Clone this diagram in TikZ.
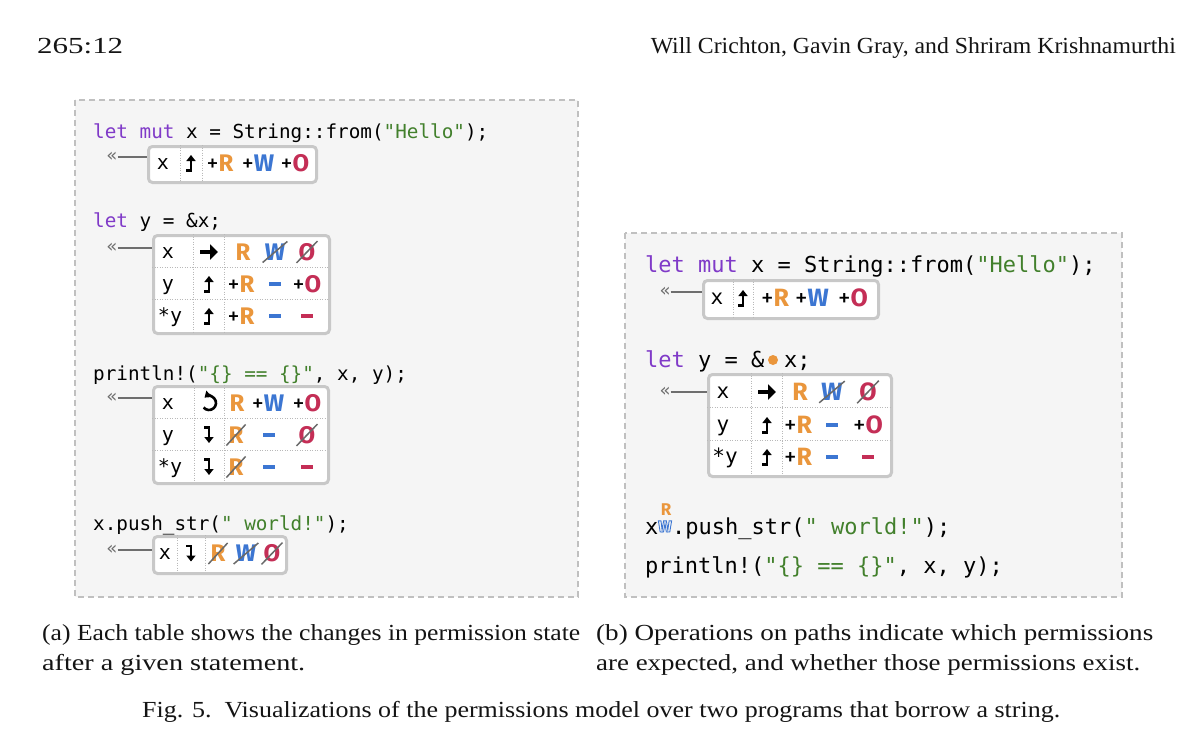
\documentclass[tikz,border=0pt]{standalone}
\usepackage{fontspec}
\usepackage{graphicx}
\setmainfont{Liberation Serif}
\newfontfamily\codefont{DejaVu Sans Mono}
\newfontfamily\permfont{Fira Sans}
\newfontfamily\chevfont{DejaVu Sans}
\usetikzlibrary{arrows.meta,calc}
\definecolor{kwc}{RGB}{128,58,200}
\definecolor{strc}{RGB}{66,128,44}
\definecolor{cR}{RGB}{234,150,60}
\definecolor{cW}{RGB}{60,118,210}
\definecolor{cO}{RGB}{196,46,86}
\definecolor{panelfill}{RGB}{245,245,245}
\definecolor{panelline}{RGB}{192,192,192}
\definecolor{tborder}{RGB}{200,200,200}
\definecolor{divc}{RGB}{185,185,185}
\definecolor{strikec}{RGB}{105,105,105}
\definecolor{connc}{RGB}{110,110,110}
\definecolor{textc}{RGB}{20,20,20}
\newcommand\lcode{\codefont\fontsize{19.3}{23}\selectfont}
\newcommand\rcode{\codefont\fontsize{22}{26}\selectfont}
\newcommand\kw[1]{\textcolor{kwc}{#1}}
\newcommand\str[1]{\textcolor{strc}{#1}}
\newcommand\pR{\textcolor{cR}{R}}
\newcommand\pW{\textcolor{cW}{W}}
\newcommand\pO{\textcolor{cO}{O}}
\newcommand\pl{\textcolor{black}{\mdseries+}}
\newcommand\owW{\special{pdf:literal direct 1 Tr 0.9 w}W\special{pdf:literal direct 0 Tr}}
\newcommand\fitw[2]{\resizebox{#1pt}{\height}{#2}}
\tikzset{
 panel/.style={draw=panelline, fill=panelfill, line width=1.8, dash pattern=on 6 off 4},
 tbox/.style={draw=tborder, fill=white, line width=3, rounded corners=4, inner sep=0, anchor=north west},
 tdiv/.style={draw=divc, line width=1, dash pattern=on 1 off 1.5},
 code/.style={anchor=base west, inner sep=0, text=black},
 pname/.style={anchor=base, inner sep=0, font=\codefont\fontsize{20}{20}\selectfont},
 rpname/.style={anchor=base, inner sep=0, font=\codefont\fontsize{21}{21}\selectfont},
 perm/.style={anchor=base, inner sep=0, font=\permfont\bfseries\fontsize{24}{24}\selectfont},
 rperm/.style={anchor=base, inner sep=0, font=\permfont\bfseries\fontsize{25}{25}\selectfont},
 crossed/.style={inner sep=2, append after command={(\tikzlastnode.south west) edge[strike] (\tikzlastnode.north east)}},
 pdash/.style={inner sep=0, minimum width=12, minimum height=3.8},
 strike/.style={draw=strikec, line width=1.5},
 chev/.style={inner sep=0, text=connc, font=\chevfont\fontsize{18}{18}\selectfont},
 conn/.style={draw=connc, line width=1.5},
 arr/.style={line width=2.6, line join=miter, -{Triangle[length=6,width=9]}},
 uparr/.pic={\draw[arr] (-5,7.5) -- (0,7.5) -- (0,-8);},
 downarr/.pic={\draw[arr] (-5,-7.5) -- (0,-7.5) -- (0,8);},
 rarr/.pic={\draw[line width=4,-{Triangle[length=8,width=15]}] (-9,0) -- (9,0);},
 rotarr/.pic={\draw[line width=2.6,-{Triangle[length=6,width=8]}] (140:7) arc[start angle=140,end angle=-130,radius=7];},
 annot/.style={anchor=base, inner sep=0, font=\permfont\bfseries\fontsize{17}{17}\selectfont},
 captxt/.style={anchor=base west, inner sep=0, font=\fontsize{23}{27}\selectfont, text=textc},
}
\begin{document}
\begin{tikzpicture}[x=1pt,y=-1pt]
\useasboundingbox (0,0) rectangle (1200,744);
\fill[white] (0,0) rectangle (1200,744);
% header
\node[captxt] (hdl) at (37,53) {\fitw{86}{265:12}};
\node[captxt, anchor=base east] (hdr) at (1176,53) {\fitw{525}{Will Crichton, Gavin Gray, and Shriram Krishnamurthi}};
% panels
\draw[panel] (75,100) rectangle (578,597);
\draw[panel] (625,233) rectangle (1122,597);
% ---------- left code ----------
\node[code] (L1) at (93,138) {\lcode\kw{let} \kw{mut} x = String::from(\str{"Hello"});};
\node[code] (L2) at (93,227) {\lcode\kw{let} y = \&x;};
\node[code] (L3) at (93,380) {\lcode println!(\str{"\{\} == \{\}"}, x, y);};
\node[code] (L4) at (93,530) {\lcode x.push\_str(\str{" world!"});};
% table L1
\begin{scope}[shift={(147,145)}]
\node[tbox, minimum width=168, minimum height=36] (L1box) at (0,0) {};
\draw[tdiv] (33,0) -- (33,36); \draw[tdiv] (55,0) -- (55,36);
\node[pname] (L1n) at (16,24) {x};
\pic (L1a) at (44,18) {uparr};
\node[perm] (L1r) at (73,26.3) {\pl\pR};
\node[perm] (L1w) at (111,26.3) {\pl\pW};
\node[perm] (L1o) at (148,26.3) {\pl\pO};
\end{scope}
\node[chev] (L1c) at (112,157) {«};
\draw[conn] (L1c.east) -- (L1c.east -| L1box.west);
% table L2
\begin{scope}[shift={(152,234)}]
\node[tbox, minimum width=176, minimum height=98] (L2box) at (0,0) {};
\draw[tdiv] (41,0) -- (41,98); \draw[tdiv] (72,0) -- (72,98);
\draw[tdiv] (0,33) -- (176,33); \draw[tdiv] (0,65) -- (176,65);
\node[pname] (L2n1) at (16,24) {x};
\pic (L2a1) at (57,18) {rarr};
\node[perm] (L2r1) at (91,26.3) {\pR};
\node[perm, crossed] (L2w1) at (123,26.3) {\pW};
\node[perm, crossed] (L2o1) at (155,26.3) {\pO};
\node[pname] (L2n2) at (16,56) {y};
\pic (L2a2) at (57,50) {uparr};
\node[perm] (L2r2) at (89,58.3) {\pl\pR};
\node[pdash, fill=cW] (L2w2) at (123,50) {};
\node[perm] (L2o2) at (155,58.3) {\pl\pO};
\node[pname] (L2n3) at (18,88) {*y};
\pic (L2a3) at (57,82) {uparr};
\node[perm] (L2r3) at (89,90.3) {\pl\pR};
\node[pdash, fill=cW] (L2w3) at (123,82) {};
\node[pdash, fill=cO] (L2o3) at (155,82) {};
\end{scope}
\node[chev] (L2c) at (112,248) {«};
\draw[conn] (L2c.east) -- (L2c.east -| L2box.west);
% table L3
\begin{scope}[shift={(152,385)}]
\node[tbox, minimum width=175, minimum height=97] (L3box) at (0,0) {};
\draw[tdiv] (42,0) -- (42,97); \draw[tdiv] (72,0) -- (72,97);
\draw[tdiv] (0,33) -- (175,33); \draw[tdiv] (0,65) -- (175,65);
\node[pname] (L3n1) at (16,24) {x};
\pic (L3a1) at (57,18) {rotarr};
\node[perm] (L3r1) at (85,26.3) {\pR};
\node[perm] (L3w1) at (116,26.3) {\pl\pW};
\node[perm] (L3o1) at (155,26.3) {\pl\pO};
\node[pname] (L3n2) at (16,56) {y};
\pic (L3a2) at (57,50) {downarr};
\node[perm, crossed] (L3r2) at (84,58.3) {\pR};
\node[pdash, fill=cW] (L3w2) at (117,50) {};
\node[perm, crossed] (L3o2) at (155,58.3) {\pO};
\node[pname] (L3n3) at (18,88) {*y};
\pic (L3a3) at (57,82) {downarr};
\node[perm, crossed] (L3r3) at (84,90.3) {\pR};
\node[pdash, fill=cW] (L3w3) at (117,82) {};
\node[pdash, fill=cO] (L3o3) at (155,82) {};
\end{scope}
\node[chev] (L3c) at (112,398) {«};
\draw[conn] (L3c.east) -- (L3c.east -| L3box.west);
% table L4
\begin{scope}[shift={(152,535)}]
\node[tbox, minimum width=133, minimum height=37] (L4box) at (0,0) {};
\draw[tdiv] (25,0) -- (25,37); \draw[tdiv] (53,0) -- (53,37);
\node[pname] (L4n) at (13,24.5) {x};
\pic (L4a) at (39,18.5) {downarr};
\node[perm, crossed] (L4r) at (66,26.8) {\pR};
\node[perm, crossed] (L4w) at (94,26.8) {\pW};
\node[perm, crossed] (L4o) at (120,26.8) {\pO};
\end{scope}
\node[chev] (L4c) at (112,550) {«};
\draw[conn] (L4c.east) -- (L4c.east -| L4box.west);
% ---------- right code ----------
\node[code] (R1) at (645,272) {\rcode\kw{let} \kw{mut} x = String::from(\str{"Hello"});};
\node[code] (R2a) at (645,367) {\rcode\kw{let} y = \&};
\node[circle, fill=cR, inner sep=0, minimum size=10] (R2dot) at (773,360) {};
\node[code] (R2b) at (784,367) {\rcode x;};
\node[code] (R3a) at (645,534) {\rcode x};
\node[annot] (R3r) at (666,515) {\pR};
\node[annot, font=\permfont\bfseries\fontsize{16}{16}\selectfont] (R3w) at (665,532) {\textcolor{cW}{\owW}};
\node[code] (R3b) at (672,534) {\rcode.push\_str(\str{" world!"});};
\node[code] (R4) at (645,573) {\rcode println!(\str{"\{\} == \{\}"}, x, y);};
% table R1
\begin{scope}[shift={(702,279)}]
\node[tbox, minimum width=175, minimum height=38] (R1box) at (0,0) {};
\draw[tdiv] (31,0) -- (31,38); \draw[tdiv] (51,0) -- (51,38);
\node[rpname] (R1n) at (15,25) {x};
\pic (R1a) at (41,19) {uparr};
\node[rperm] (R1r) at (73,27.6) {\pl\pR};
\node[rperm] (R1w) at (110,27.6) {\pl\pW};
\node[rperm] (R1o) at (151,27.6) {\pl\pO};
\end{scope}
\node[chev] (R1c) at (665,292) {«};
\draw[conn] (R1c.east) -- (R1c.east -| R1box.west);
% table R2
\begin{scope}[shift={(707,373)}]
\node[tbox, minimum width=183, minimum height=102] (R2box) at (0,0) {};
\draw[tdiv] (44,0) -- (44,102); \draw[tdiv] (75,0) -- (75,102);
\draw[tdiv] (0,34) -- (183,34); \draw[tdiv] (0,67) -- (183,67);
\node[rpname] (R2n1) at (16,25) {x};
\pic (R2a1) at (60,19) {rarr};
\node[rperm] (R2r1) at (93,27.6) {\pR};
\node[rperm, crossed] (R2w1) at (125,27.6) {\pW};
\node[rperm, crossed] (R2o1) at (161,27.6) {\pO};
\node[rpname] (R2n2) at (16,58) {y};
\pic (R2a2) at (60,52) {uparr};
\node[rperm] (R2r2) at (91,60.6) {\pl\pR};
\node[pdash, fill=cW] (R2w2) at (125,52) {};
\node[rperm] (R2o2) at (161,60.6) {\pl\pO};
\node[rpname] (R2n3) at (18,90) {*y};
\pic (R2a3) at (60,84) {uparr};
\node[rperm] (R2r3) at (91,92.6) {\pl\pR};
\node[pdash, fill=cW] (R2w3) at (125,84) {};
\node[pdash, fill=cO] (R2o3) at (161,84) {};
\end{scope}
\node[chev] (R2c) at (665,392) {«};
\draw[conn] (R2c.east) -- (R2c.east -| R2box.west);
% captions
\node[captxt] (capa1) at (42,640) {\fitw{538}{(a) Each table shows the changes in permission state}};
\node[captxt] (capa2) at (42,670) {\fitw{263}{after a given statement.}};
\node[captxt] (capb1) at (596,640) {\fitw{557}{(b) Operations on paths indicate which permissions}};
\node[captxt] (capb2) at (596,670) {\fitw{544}{are expected, and whether those permissions exist.}};
\node[captxt] (fig) at (142,717) {\fitw{918}{Fig. 5.\hspace{0.5em}Visualizations of the permissions model over two programs that borrow a string.}};
\end{tikzpicture}
\end{document}
